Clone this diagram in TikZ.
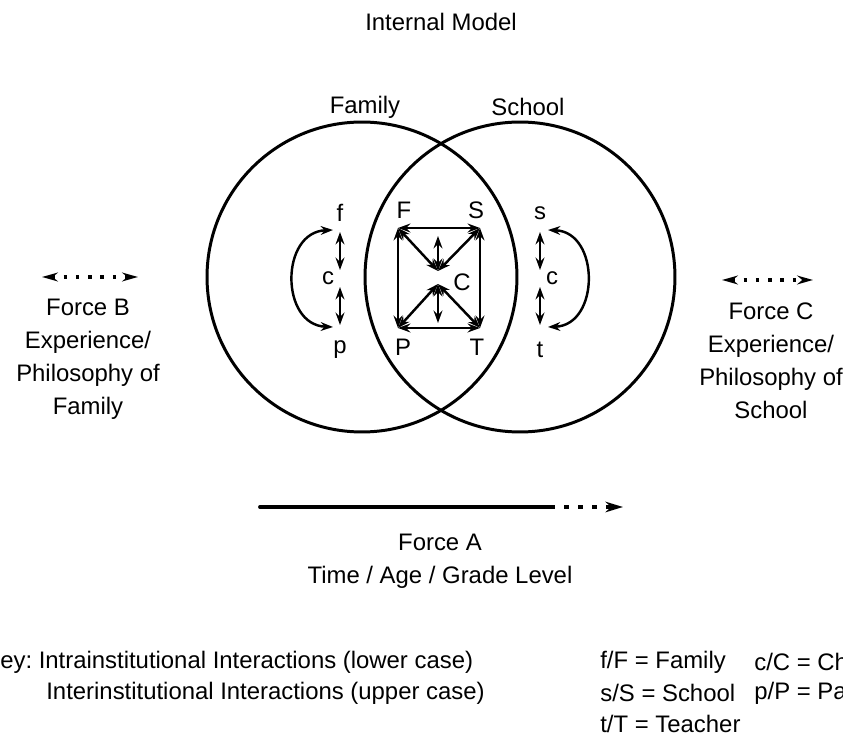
\documentclass[tikz,border=0pt]{standalone}
\usepackage{fontspec}
\setmainfont{Liberation Sans}
\usetikzlibrary{arrows.meta,positioning}
\begin{document}
\begin{tikzpicture}[x=0.02cm,y=-0.02cm,>={Stealth[length=7pt,width=5pt]},lbl/.style={font=\fontsize{13.6}{18.7}\selectfont,inner sep=0pt},txt/.style={font=\fontsize{13.6}{18.7}\selectfont,align=center,inner sep=0pt},keytxt/.style={font=\fontsize{13.6}{18.7}\selectfont,inner sep=0pt,anchor=west},ring/.style={draw,circle,line width=1.7pt,minimum size=6.2cm,inner sep=0pt},link/.style={<->,line width=1.4pt},force/.style={{Stealth[length=9pt,width=5pt]}-{Stealth[length=9pt,width=5pt]},line width=2pt,dash pattern=on 2pt off 5pt}]
\useasboundingbox (0,0) rectangle (843,746);
\clip (0,0) rectangle (843,746);
\node[lbl] (title) at (441,22) {Internal Model};
\node[ring] (family) at (362,277) {}; \node[ring] (school) at (520,277) {};
\node[lbl] (famlbl) at (365,107) {Family}; \node[lbl] (schlbl) at (528,107) {School};
\coordinate (fc) at (398,228); \coordinate (sc) at (480,228); \coordinate (pc) at (398,328); \coordinate (tc) at (480,328);
\coordinate (ctop) at (438,271); \coordinate (cbot) at (438,284); \coordinate (mtop) at (438,236); \coordinate (mbot) at (438,323);
\node[lbl] (F) at (404,210) {F}; \node[lbl] (S) at (476,210) {S}; \node[lbl] (P) at (403,347) {P}; \node[lbl] (T) at (477,347) {T}; \node[lbl] (C) at (462,282) {C};
\draw[link] (fc)--(sc); \draw[link] (pc)--(tc); \draw[link] (fc)--(pc); \draw[link] (sc)--(tc);
\draw[link] (fc)--(ctop); \draw[link] (sc)--(ctop); \draw[link] (mtop)--(ctop);
\draw[link] (pc)--(cbot); \draw[link] (tc)--(cbot); \draw[link] (mbot)--(cbot);
\node[lbl] (f) at (340,213) {f}; \node[lbl] (cf) at (328,278) {c}; \node[lbl] (p) at (340,350) {p};
\coordinate (f1) at (340,232); \coordinate (f2) at (340,270); \coordinate (p1) at (340,287); \coordinate (p2) at (340,325);
\draw[link] (f1)--(f2); \draw[link] (p1)--(p2);
\coordinate (la) at (333,230); \coordinate (lb) at (333,327);
\draw[link] (la) .. controls (280,232) and (280,325) .. (lb);
\node[lbl] (s) at (540,213) {s}; \node[lbl] (cs) at (552,278) {c}; \node[lbl] (t) at (540,350) {t};
\coordinate (s1) at (540,232); \coordinate (s2) at (540,270); \coordinate (t1) at (540,287); \coordinate (t2) at (540,325);
\draw[link] (s1)--(s2); \draw[link] (t1)--(t2);
\coordinate (ra) at (548,230); \coordinate (rb) at (548,327);
\draw[link] (ra) .. controls (600,232) and (600,325) .. (rb);
\coordinate (bl) at (42,277); \coordinate (br) at (138,277); \draw[force] (bl)--(br);
\node[txt] (forceB) at (88,359) {Force B\\Experience/\\Philosophy of\\Family};
\coordinate (cl) at (722,280); \coordinate (cr) at (813,280); \draw[force] (cl)--(cr);
\node[txt] (forceC) at (771,361) {Force C\\Experience/\\Philosophy of\\School};
\coordinate (al) at (260,507); \coordinate (am) at (550,507); \coordinate (ar) at (623,507);
\draw[line width=2.2pt,line cap=round] (al)--(am); \draw[line width=2.2pt,dash pattern=on 3pt off 5pt,-{Stealth[length=10pt,width=6pt]}] (am)--(ar);
\node[txt] (forceA) at (440,561) {Force A\\Time / Age / Grade Level};
\node[keytxt] (intra) at (-16,662) {Key:\ Intrainstitutional Interactions (lower case)};
\node[keytxt] (inter) at (46,693) {Interinstitutional Interactions (upper case)};
\node[keytxt] (kf) at (600,662) {f/F = Family}; \node[keytxt] (ks) at (600,693) {s/S = School}; \node[keytxt] (kt) at (600,724) {t/T = Teacher};
\node[keytxt] (kc) at (754,662) {c/C = Child}; \node[keytxt] (kp) at (754,693) {p/P = Parent};
\end{tikzpicture}
\end{document}
